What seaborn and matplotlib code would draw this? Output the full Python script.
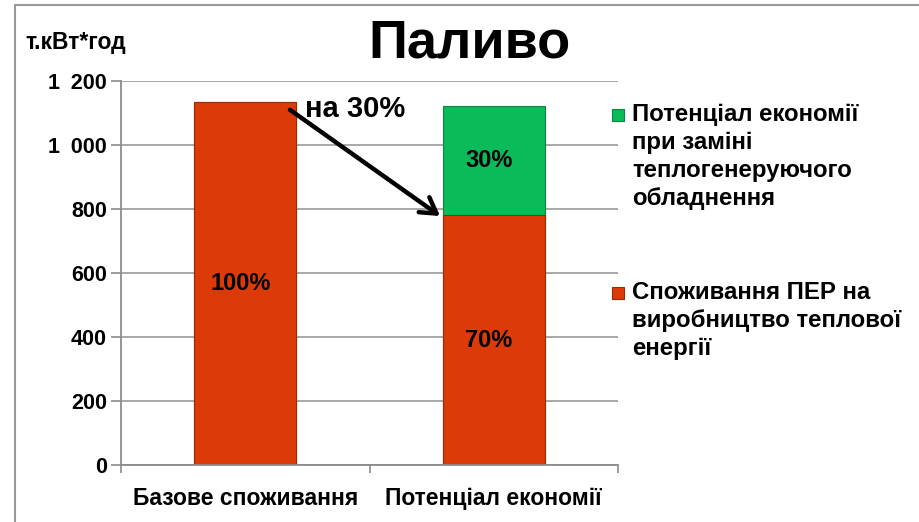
import matplotlib.pyplot as plt
import pandas as pd
import seaborn as sns
from matplotlib.patches import Rectangle
from matplotlib.ticker import FuncFormatter

categories = ["Базове споживання", "Потенціал економії"]
consumption = [1135, 780]   # Споживання ПЕР на виробництво теплової енергії
savings = [0, 342]          # Потенціал економії при заміні обладнення
bar_labels_red = ["100%", "70%"]
bar_labels_green = ["", "30%"]
legend_labels = [
    "Потенціал економії\nпри заміні\nтеплогенеруючого\nобладнення",
    "Споживання ПЕР на\nвиробництво теплової\nенергії",
]

red = "#DC3A08"
green = "#0BBA58"
red_edge = "#9a2a05"
green_edge = "#078a40"

sns.set_theme(style="white")
plt.rcParams["font.family"] = ["Liberation Sans", "DejaVu Sans"]
plt.rcParams["text.color"] = "black"
plt.rcParams["xtick.color"] = "black"
plt.rcParams["ytick.color"] = "black"

df = pd.DataFrame({
    "категорія": categories,
    "спож": consumption,
    "разом": [c + s for c, s in zip(consumption, savings)],
})

fig = plt.figure(figsize=(9.19, 5.22), dpi=100)
ax = fig.add_axes([121 / 919, 1 - 465 / 522, (618 - 121) / 919, (465 - 81) / 522])

# загальна висота (зелена частина зверху), потім червона частина
sns.barplot(data=df, x="категорія", y="разом", hue="категорія",
            palette=[red, green], width=0.41, legend=False, ax=ax,
            saturation=1, edgecolor=red_edge, linewidth=0.8)
sns.barplot(data=df, x="категорія", y="спож", color=red, width=0.41,
            ax=ax, edgecolor=red_edge, linewidth=0.8, saturation=1)
ax.patches[1].set_edgecolor(green_edge)

ax.set_ylim(0, 1200)
ax.set_xlim(-0.5, 1.5)
ax.set_yticks(range(0, 1201, 200))
ax.yaxis.set_major_formatter(
    FuncFormatter(lambda v, _: f"{int(v):,}".replace(",", "\u2002")))
ax.grid(axis="y", color="#9a9a9a", linewidth=1.2)
ax.set_axisbelow(True)
for s in ["top", "right"]:
    ax.spines[s].set_visible(False)
for s in ["left", "bottom"]:
    ax.spines[s].set_color("#8c8c8c")
    ax.spines[s].set_linewidth(1.3)
ax.tick_params(axis="y", left=True, length=7, color="#8c8c8c", width=1.2,
               labelsize=15.5, pad=3, labelcolor="black")
ax.tick_params(axis="x", bottom=False, labelsize=16.5, pad=10,
               labelcolor="black")
ax.set_xticks([-0.5, 0.5, 1.5], minor=True)
ax.tick_params(axis="x", which="minor", bottom=True, length=6,
               color="#8c8c8c", width=1.2)
for lab in ax.get_yticklabels() + ax.get_xticklabels():
    lab.set_fontweight("bold")
ax.set_xlabel("")
ax.set_ylabel("")

for i in range(2):
    ax.text(i - 0.02, consumption[i] / 2, bar_labels_red[i], ha="center",
            va="center", fontsize=17, fontweight="bold")
    if bar_labels_green[i]:
        ax.text(i - 0.02, consumption[i] + savings[i] / 2, bar_labels_green[i],
                ha="center", va="center", fontsize=17, fontweight="bold")

ax.annotate("", xy=(0.784, 778), xytext=(0.18, 1110),
            arrowprops=dict(arrowstyle="->,head_length=0.5,head_width=0.3",
                            color="black", lw=3.2, mutation_scale=22,
                            shrinkA=0, shrinkB=0))
ax.text(0.24, 1112, "на 30%", fontsize=21, fontweight="bold", va="center")

fig.text(470 / 919, 1 - 44 / 522, "Паливо", ha="center", va="center",
         fontsize=39, fontweight="bold")
fig.text(25 / 919, 1 - 42 / 522, "т.кВт*год", ha="left", va="center",
         fontsize=16.5, fontweight="bold")

# легенда: квадратик біля першого рядка кожного підпису
legend_colors = [(green, green_edge), (red, red_edge)]
legend_tops = [103, 281]
for (fc, ec), label, top in zip(legend_colors, legend_labels, legend_tops):
    fig.add_artist(Rectangle((612 / 919, 1 - (top + 18) / 522), 12 / 919,
                             12 / 522, transform=fig.transFigure,
                             facecolor=fc, edgecolor=ec, linewidth=0.8))
    fig.text(632 / 919, 1 - top / 522, label, ha="left", va="top",
             fontsize=17.3, fontweight="bold", linespacing=1.27)

fig.add_artist(Rectangle((15 / 919, -0.05), 1.1, 1 - 5 / 522 + 0.05,
                         transform=fig.transFigure, fill=False,
                         edgecolor="#999999", linewidth=1.5))

fig.savefig("out.png", dpi=100)
